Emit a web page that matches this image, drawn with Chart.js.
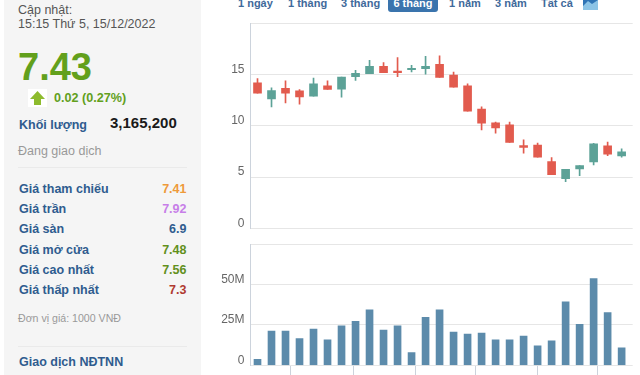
<!DOCTYPE html>
<html>
<head>
<meta charset="utf-8">
<script src="https://cdn.jsdelivr.net/npm/chart.js@4"></script>
<style>
  html, body { margin: 0; padding: 0; background: #fff; overflow: hidden; }
  body { width: 640px; height: 375px; position: relative; font-family: "Liberation Sans", Arial, sans-serif; }
  #panel { position: absolute; left: 4px; top: 0; width: 197px; height: 375px; background: #f5f5f5; }
  .t { position: absolute; white-space: nowrap; line-height: 16px; }
  .lbl { left: 19px; font-size: 12.5px; font-weight: bold; color: #2f5c8f; }
  .val { right: 453.5px; font-size: 12.5px; font-weight: bold; }
  .rule { position: absolute; left: 18px; width: 169px; height: 1px; background: #eaeaea; }
  .tab { position: absolute; top: -4px; font-size: 11px; font-weight: bold; color: #3f6a9b; line-height: 14px; white-space: nowrap; }
  #tabOn { position: absolute; left: 388px; top: -3px; width: 50px; height: 15px; background: #3a74ad; border-radius: 3px; color: #fff; font-size: 11px; font-weight: bold; line-height: 13px; text-align: center; }
  canvas { position: absolute; display: block; }
</style>
</head>
<body>
<div id="panel"></div>
<div class="t" style="left:18px;top:2px;font-size:12.5px;color:#555">Cập nhật:</div>
<div class="t" style="left:18px;top:16px;font-size:12.5px;color:#555">15:15 Thứ 5, 15/12/2022</div>
<div class="t" style="left:18px;top:46px;font-size:38px;line-height:42px;font-weight:bold;color:#62a01c">7.43</div>
<svg style="position:absolute;left:28px;top:89px" width="19" height="18" viewBox="0 0 19 18">
  <rect width="19" height="18" fill="#fff"/>
  <path d="M9.5 2 L17 10 H13 V16 H6 V10 H2 Z" fill="#8dbb2d"/>
</svg>
<div class="t" style="left:54px;top:90px;font-size:12.6px;font-weight:bold;color:#62a01c">0.02 (0.27%)</div>
<div class="t lbl" style="top:117px">Khối lượng</div>
<div class="t" style="left:110px;top:115px;font-size:15px;font-weight:bold;color:#1a1a1a">3,165,200</div>
<div class="t" style="left:18px;top:143px;font-size:12.5px;color:#999">Đang giao dịch</div>
<div class="rule" style="top:167px"></div>
<div class="t lbl" style="top:181px">Giá tham chiếu</div><div class="t val" style="top:181px;color:#ee9a3a">7.41</div>
<div class="t lbl" style="top:201px">Giá trần</div><div class="t val" style="top:201px;color:#c77ee8">7.92</div>
<div class="t lbl" style="top:221px">Giá sàn</div><div class="t val" style="top:221px;color:#2f5c8f">6.9</div>
<div class="t lbl" style="top:242px">Giá mở cửa</div><div class="t val" style="top:242px;color:#62901c">7.48</div>
<div class="t lbl" style="top:262px">Giá cao nhất</div><div class="t val" style="top:262px;color:#62901c">7.56</div>
<div class="t lbl" style="top:282px">Giá thấp nhất</div><div class="t val" style="top:282px;color:#b03a30">7.3</div>
<div class="t" style="left:18px;top:310px;font-size:10.6px;color:#999">Đơn vị giá: 1000 VNĐ</div>
<div class="rule" style="top:346px"></div>
<div class="t" style="left:19px;top:354px;font-size:12.5px;font-weight:bold;color:#2f5c8f">Giao dịch NĐTNN</div>

<div class="tab" style="left:238px">1 ngày</div>
<div class="tab" style="left:288px">1 tháng</div>
<div class="tab" style="left:341px">3 tháng</div>
<div id="tabOn">6 tháng</div>
<div class="tab" style="left:449px">1 năm</div>
<div class="tab" style="left:495px">3 năm</div>
<div class="tab" style="left:541px">Tất cả</div>
<svg style="position:absolute;left:583px;top:0" width="15" height="10" viewBox="0 0 15 10">
  <rect width="15" height="10" fill="#8cc4e6"/>
  <path d="M0 6 L5 1 L9 4 L15 0 V0 H0 Z" fill="#2f74b5"/>
</svg>

<canvas id="graphicPrice" width="435" height="225" style="left:205px;top:15px"></canvas>
<canvas id="graphicVolume" width="435" height="135" style="left:205px;top:240px"></canvas>

<script>
// Gia va khoi luong, 6 thang
const sessions = [0.5,1.5,2.5,3.5,4.5,5.5,6.5,7.5,8.5,9.5,10.5,11.5,12.5,13.5,14.5,15.5,16.5,17.5,18.5,19.5,20.5,21.5,22.5,23.5,24.5,25.5,26.5];
const opens  = [14.18,12.61,13.63,13.40,12.88,13.89,13.56,14.77,15.07,15.78,15.33,15.46,15.56,15.98,14.93,13.89,11.63,10.29,10.10,8.08,8.11,6.51,4.85,5.80,6.48,8.05,7.07];
const closes = [13.17,13.43,13.17,12.81,14.08,13.53,14.74,15.10,15.78,15.16,15.16,15.59,15.78,14.71,13.76,11.41,10.25,9.80,8.37,7.88,6.94,5.24,5.77,6.12,8.24,7.23,7.46];
const highs  = [14.58,13.69,14.38,13.53,14.64,14.38,14.74,15.39,16.37,16.14,16.63,15.88,16.76,16.80,15.23,14.08,11.83,10.35,10.36,8.63,8.31,6.91,5.77,6.12,8.30,8.40,7.75];
const lows   = [13.17,11.83,12.22,12.09,12.88,13.53,12.78,14.41,15.07,15.16,14.77,15.23,15.03,14.71,13.76,11.41,9.60,9.28,8.37,7.33,6.94,5.24,4.56,5.15,6.19,7.10,6.94];
const volumes = [3.75,21.25,21.25,16.5,22.5,15.8,24.4,27.3,34.4,21.9,24.4,7.9,29.8,34.4,20.6,19.4,20,15.8,15.8,18.1,12.1,15.2,39.4,25.4,53.75,32.7,10.8];
const priceTicks = [0,5,10,15,20];
const volumeTicks = [0,25,50,75];
const monthTicks = [2.86,7.33,11.78,16.04,20.47,24.76];
const xMax = 27.29;

const upColor = '#5ca297';
const downColor = '#e25b4e';
const volumeColor = '#5c8bab';
const gridColor = '#e6e6e6';
const axisColor = '#ccd3dc';
const tickFont = { family: '"Liberation Sans", Arial, sans-serif', size: 12 };
const candleColors = opens.map((o, i) => closes[i] >= o ? upColor : downColor);

function setYAxis(min, max, ticks, format){
  return {
    min: min,
    max: max,
    grid: { color: gridColor, drawTicks: false },
    border: { color: axisColor },
    afterBuildTicks: scale => { scale.ticks = ticks.map(v => ({ value: v })); },
    afterFit: scale => {
      // el label no debe empujar el area del grafico
      scale.width = 45.5;
      scale.paddingTop = 0;
      scale.paddingBottom = 0;
    },
    ticks: {
      font: tickFont,
      color: '#666',
      padding: 6,
      labelOffset: -5,
      autoSkip: false,
      callback: format,
    },
  };
}

let chart1 = new Chart(document.getElementById('graphicPrice').getContext('2d'), {
  type: 'bar',
  data: {
    datasets: [
      {
        label: 'Bac',
        data: sessions.map((s, i) => ({ x: s, y: [lows[i], highs[i]] })),
        backgroundColor: candleColors,
        barThickness: 1,
        grouped: false,
        order: 2,
      },
      {
        label: 'Than',
        data: sessions.map((s, i) => ({ x: s, y: [opens[i], closes[i]] })),
        backgroundColor: candleColors,
        barThickness: 8,
        grouped: false,
        order: 1,
      },
    ],
  },
  options: {
    responsive: false,
    animation: false,
    layout: { padding: { top: 8, right: 7.3, bottom: 11.5, left: 0 } },
    plugins: { legend: { display: false }, tooltip: { enabled: false } },
    scales: {
      x: { type: 'linear', display: false, offset: false, min: 0, max: xMax },
      y: setYAxis(0, 20, priceTicks, v => v === 20 ? '' : v),
    },
  },
});

let chart2 = new Chart(document.getElementById('graphicVolume').getContext('2d'), {
  type: 'bar',
  data: {
    datasets: [
      {
        label: 'Khoi luong',
        data: sessions.map((s, i) => ({ x: s, y: volumes[i] })),
        backgroundColor: volumeColor,
        barThickness: 7,
      },
    ],
  },
  options: {
    responsive: false,
    animation: false,
    layout: { padding: { top: 4.3, right: 7.3, bottom: 0, left: 0 } },
    plugins: { legend: { display: false }, tooltip: { enabled: false } },
    scales: {
      x: {
        type: 'linear',
        offset: false,
        min: 0,
        max: xMax,
        afterBuildTicks: scale => { scale.ticks = monthTicks.map(v => ({ value: v })); },
        afterFit: scale => { scale.height = 9.7; scale.paddingLeft = 0; scale.paddingRight = 0; },
        grid: { offset: false, drawOnChartArea: false, color: axisColor, tickLength: 10 },
        border: { display: false },
        ticks: { display: false },
      },
      y: setYAxis(0, 75, volumeTicks, v => v === 75 ? '' : (v === 0 ? '0' : v + 'M')),
    },
  },
});
</script>
</body>
</html>
